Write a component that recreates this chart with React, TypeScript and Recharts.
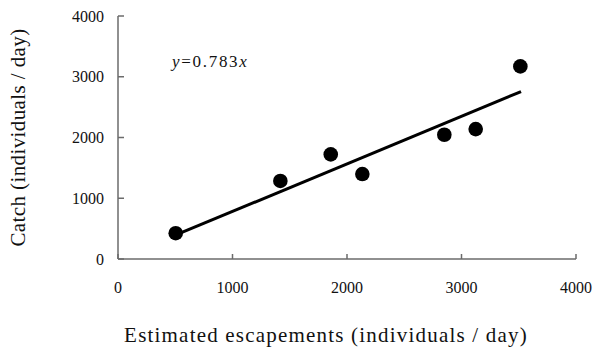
import React from "react";
import { ScatterChart, Scatter, XAxis, YAxis, ReferenceLine } from "recharts";

const escapements = [504, 1418, 1858, 2134, 2850, 3124, 3514];
const catches = [425, 1285, 1722, 1398, 2045, 2138, 3170];
const slope = 0.783;
const fitStartX = 500;
const fitEndX = 3520;
const xTicks = [0, 1000, 2000, 3000, 4000];
const yTicks = [0, 1000, 2000, 3000, 4000];

const points = escapements.map((x, i) => ({ x, y: catches[i] }));

const font = "'Liberation Serif', 'Times New Roman', serif";
const axisColor = "#6b6b6b";

const Dot = (props: any) => {
  const { cx, cy } = props;
  if (cx == null || cy == null) return null;
  return <circle cx={cx} cy={cy} r={7.3} fill="#000" />;
};

const XTick = (props: any) => {
  const { x, payload } = props;
  return (
    <text x={x} y={293} textAnchor="middle" fontSize={16} fontFamily="Liberation Serif" fill="#111">
      {payload.value}
    </text>
  );
};

const YTick = (props: any) => {
  const { y, payload } = props;
  return (
    <text x={104} y={y + 5.5} textAnchor="end" fontSize={16} fontFamily="Liberation Serif" fill="#111">
      {payload.value}
    </text>
  );
};

export default function App() {
  return (
    <div style={{ position: "absolute", left: 0, top: 0, width: 596, height: 356, background: "#fff" }}>
      <ScatterChart width={596} height={356} margin={{ top: 16, right: 20, bottom: 0, left: 0 }}>
        <XAxis
          type="number"
          dataKey="x"
          domain={[0, 4000]}
          ticks={xTicks}
          interval={0}
          height={97}
          tickSize={-5}
          stroke={axisColor}
          strokeWidth={1.5}
          tick={<XTick />}
          label={{
            value: "Estimated escapements (individuals / day)",
            position: "insideBottom",
            offset: 14,
            dx: -21,
            style: { fill: "#111", fontSize: 21, fontFamily: font, letterSpacing: 1.2 },
          }}
        />
        <YAxis
          type="number"
          dataKey="y"
          domain={[0, 4000]}
          ticks={yTicks}
          interval={0}
          width={118}
          tickSize={-6}
          stroke={axisColor}
          strokeWidth={1.5}
          tick={<YTick />}
          label={{
            value: "Catch (individuals / day)",
            angle: -90,
            position: "insideLeft",
            offset: 18,
            style: { fill: "#111", fontSize: 21, fontFamily: font, letterSpacing: 0.4, textAnchor: "middle" },
          }}
        />
        <ReferenceLine
          segment={[
            { x: fitStartX, y: slope * fitStartX },
            { x: fitEndX, y: slope * fitEndX },
          ]}
          stroke="#000"
          strokeWidth={3}
          ifOverflow="extendDomain"
        />
        <Scatter data={points} shape={<Dot />} isAnimationActive={false} />
      </ScatterChart>
      <div
        style={{
          position: "absolute",
          left: 172,
          top: 52,
          fontFamily: font,
          fontSize: 17,
          letterSpacing: 1.7,
          color: "#111",
          lineHeight: "20px",
          whiteSpace: "nowrap",
        }}
      >
        <i>y</i>=0.783<i>x</i>
      </div>
    </div>
  );
}
